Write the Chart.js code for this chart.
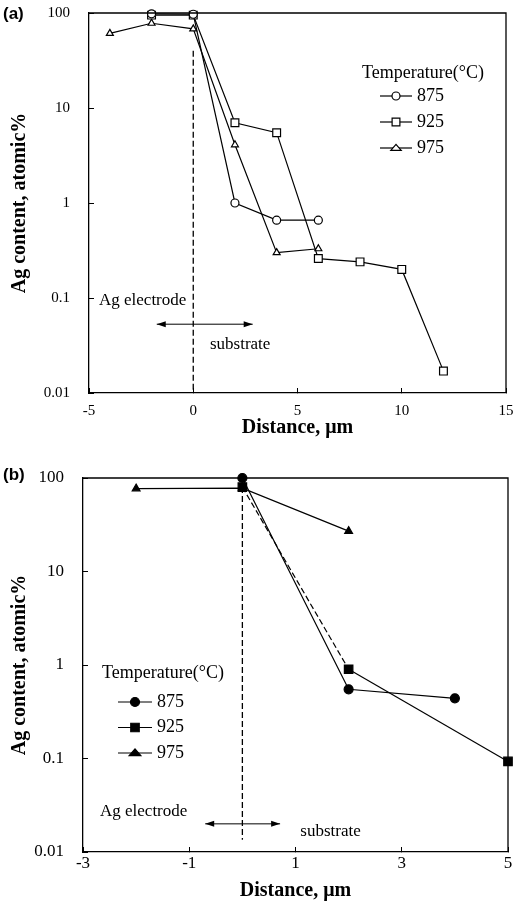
<!DOCTYPE html>
<html>
<head>
<meta charset="utf-8">
<script src="https://cdn.jsdelivr.net/npm/chart.js@4.4.0/dist/chart.umd.min.js"></script>
<style>
  body { margin: 0; background: #fff; }
  #wrap { position: relative; width: 517px; height: 905px; }
  canvas { position: absolute; left: 0; }
</style>
</head>
<body>
<div id="wrap">
  <canvas id="agChartA" width="517" height="450" style="top:0"></canvas>
  <canvas id="agChartB" width="517" height="455" style="top:450px"></canvas>
</div>
<script>
// Temperature series labels
const temps = ['875', '925', '975'];

// Panel (a): Ag content vs distance
const a875x = [-2, 0, 2, 4, 6];
const a875y = [98, 97, 1.0, 0.66, 0.66];
const a925x = [-2, 0, 2, 4, 6, 8, 10, 12];
const a925y = [95, 95, 7, 5.5, 0.26, 0.24, 0.2, 0.017];
const a975x = [-4, -2, 0, 2, 4, 6];
const a975y = [61, 78, 68, 4.1, 0.3, 0.33];

// Panel (b)
const b875x = [0, 2, 4];
const b875y = [100, 0.55, 0.44];
const b925x = [0, 2, 5];
const b925y = [80, 0.9, 0.093];
const b975x = [-2, 0, 2];
const b975y = [77, 78, 27];

// Tick labels
const aXTicks = [-5, 0, 5, 10, 15];
const bXTicks = [-3, -1, 1, 3, 5];
const yTicks = [0.01, 0.1, 1, 10, 100];
const yTickLabels = ['0.01', '0.1', '1', '10', '100'];

const serif = '"Liberation Serif", "Times New Roman", serif';
const pts = (xs, ys) => xs.map((x, i) => ({x: x, y: ys[i]}));

function marker(ctx, style, x, y, r, fill) {
    ctx.beginPath();
    if (style === 'circle') {
        ctx.arc(x, y, r, 0, Math.PI * 2);
    } else if (style === 'rect') {
        const s = r * Math.SQRT1_2;
        ctx.rect(x - s, y - s, 2 * s, 2 * s);
    } else {
        const h = r * 1.5, w = r * 1.3;
        ctx.moveTo(x, y - h * 0.6);
        ctx.lineTo(x + w, y + h * 0.4);
        ctx.lineTo(x - w, y + h * 0.4);
        ctx.closePath();
    }
    ctx.fillStyle = fill;
    ctx.fill();
    ctx.stroke();
}

// draws frame, boundary line, arrow, notes, panel letter and legend
const annotate = {
    id: 'annotate',
    afterDatasetsDraw(chart, args, o) {
        const {ctx, chartArea: ca, scales: {x, y}} = chart;
        ctx.save();
        ctx.strokeStyle = '#000';
        ctx.fillStyle = '#000';
        ctx.lineWidth = 1.3;
        ctx.beginPath();
        ctx.moveTo(ca.left, ca.top);
        ctx.lineTo(ca.right, ca.top);
        ctx.lineTo(ca.right, ca.bottom);
        ctx.stroke();

        // dashed electrode / substrate boundary
        const x0 = x.getPixelForValue(0);
        ctx.setLineDash([6, 3]);
        ctx.beginPath();
        ctx.moveTo(x0, y.getPixelForValue(o.dash[0]));
        ctx.lineTo(x0, y.getPixelForValue(o.dash[1]));
        ctx.stroke();
        ctx.setLineDash([]);

        // double arrow
        const ax1 = x.getPixelForValue(o.arrow[0]);
        const ax2 = x.getPixelForValue(o.arrow[1]);
        const ay = y.getPixelForValue(o.arrow[2]);
        ctx.lineWidth = 1;
        ctx.beginPath();
        ctx.moveTo(ax1, ay);
        ctx.lineTo(ax2, ay);
        ctx.stroke();
        [[ax1, 1], [ax2, -1]].forEach(([ax, d]) => {
            ctx.beginPath();
            ctx.moveTo(ax, ay);
            ctx.lineTo(ax + d * 9, ay - 3);
            ctx.lineTo(ax + d * 9, ay + 3);
            ctx.closePath();
            ctx.fill();
        });

        ctx.font = o.noteSize + 'px ' + serif;
        ctx.textBaseline = 'middle';
        ctx.textAlign = 'left';
        ctx.fillText('Ag electrode', x.getPixelForValue(o.electrode[0]), y.getPixelForValue(o.electrode[1]));
        ctx.fillText('substrate', x.getPixelForValue(o.substrate[0]), y.getPixelForValue(o.substrate[1]));

        // panel letter
        ctx.font = 'bold 17px "Liberation Sans", Arial, sans-serif';
        ctx.fillText(o.letter, 3, o.letterY);

        // legend
        const L = o.legend;
        ctx.font = L.size + 'px ' + serif;
        ctx.fillText('Temperature(\u00B0C)', L.x, L.y);
        chart.data.datasets.forEach((ds, i) => {
            const ly = L.y + L.first + i * L.gap;
            ctx.lineWidth = 1.2;
            ctx.beginPath();
            ctx.moveTo(L.lx1, ly);
            ctx.lineTo(L.lx2, ly);
            ctx.stroke();
            marker(ctx, ds.pointStyle, (L.lx1 + L.lx2) / 2, ly, ds.pointRadius, ds.pointBackgroundColor);
            ctx.fillStyle = '#000';
            ctx.fillText(ds.label, L.lx2 + 5, ly);
        });
        ctx.restore();
    }
};

function makeScales(xMin, xMax, xTicks, xH, yW, xPad, tickSize, xTitlePad) {
    return {
        x: {
            type: 'linear',
            min: xMin,
            max: xMax,
            afterBuildTicks: s => { s.ticks = xTicks.map(v => ({value: v})); },
            afterFit: s => {
                s.height = xH;
                s.paddingLeft = 0;
                s.paddingRight = 0;
            },
            border: {color: '#000', width: 1.3},
            grid: {drawOnChartArea: false, tickLength: -5, color: '#000'},
            ticks: {
                color: '#000',
                font: {family: serif, size: tickSize},
                padding: xPad,
                maxRotation: 0,
                autoSkip: false
            },
            title: {
                display: true,
                text: 'Distance, \u03BCm',
                color: '#000',
                font: {family: serif, size: 20, weight: 'bold'},
                padding: {top: 0, bottom: xTitlePad}
            }
        },
        y: {
            type: 'logarithmic',
            min: 0.01,
            max: 100,
            afterBuildTicks: s => { s.ticks = yTicks.map(v => ({value: v})); },
            afterFit: s => {
                s.width = yW;
                s.paddingTop = 0;
                s.paddingBottom = 0;
            },
            border: {color: '#000', width: 1.3},
            grid: {drawOnChartArea: false, tickLength: -5, color: '#000'},
            ticks: {
                color: '#000',
                font: {family: serif, size: tickSize},
                padding: 24,
                autoSkip: false,
                callback: (v, i) => yTickLabels[i]
            },
            title: {
                display: true,
                text: 'Ag content, atomic%',
                color: '#000',
                font: {family: serif, size: 20, weight: 'bold'},
                padding: {top: 8, bottom: 0}
            }
        }
    };
}

function series(label, data, style, fill, r) {
    return {
        label: label,
        data: data,
        showLine: true,
        borderColor: '#000',
        borderWidth: 1.2,
        pointStyle: style,
        pointRadius: r,
        pointBackgroundColor: fill,
        pointBorderColor: '#000',
        pointBorderWidth: 1.2,
        clip: false
    };
}

// Panel (a): open markers
const ctxA = document.getElementById('agChartA').getContext('2d');
new Chart(ctxA, {
type: 'scatter',
data: {
    datasets: [
        series(temps[0], pts(a875x, a875y), 'circle', '#fff', 4),
        series(temps[1], pts(a925x, a925y), 'rect', '#fff', 5.5),
        series(temps[2], pts(a975x, a975y), 'triangle', '#fff', 4)
    ]
},
options: {
    responsive: false,
    animation: false,
    layout: {padding: {top: 13, right: 11, bottom: 0, left: 0}},
    scales: makeScales(-5, 15, aXTicks, 57, 89, 14, 15, 10),
    plugins: {
        legend: {display: false},
        tooltip: {enabled: false},
        annotate: {
            letter: '(a)',
            letterY: 14,
            dash: [40, 0.01],
            arrow: [-1.75, 2.85, 0.053],
            electrode: [-4.52, 0.093],
            substrate: [0.8, 0.032],
            noteSize: 17,
            legend: {x: 362, y: 73, first: 23, gap: 26, lx1: 380, lx2: 412, size: 18}
        }
    }
},
plugins: [annotate]
});

// Panel (b): filled markers
const ctxB = document.getElementById('agChartB').getContext('2d');
const b925 = series(temps[1], pts(b925x, b925y), 'rect', '#000', 6);
b925.segment = {borderDash: c => c.p0DataIndex === 0 ? [6, 3] : undefined};
new Chart(ctxB, {
type: 'scatter',
data: {
    datasets: [
        series(temps[0], pts(b875x, b875y), 'circle', '#000', 4.5),
        b925,
        series(temps[2], pts(b975x, b975y), 'triangle', '#000', 4.5)
    ]
},
options: {
    responsive: false,
    animation: false,
    layout: {padding: {top: 28, right: 9, bottom: 0, left: 0}},
    scales: makeScales(-3, 5, bXTicks, 53, 83, 6, 17, 2),
    plugins: {
        legend: {display: false},
        tooltip: {enabled: false},
        annotate: {
            letter: '(b)',
            letterY: 25,
            dash: [80, 0.0135],
            arrow: [-0.7, 0.71, 0.02],
            electrode: [-2.68, 0.027],
            substrate: [1.09, 0.0164],
            noteSize: 17,
            legend: {x: 102, y: 223, first: 29, gap: 25.5, lx1: 118, lx2: 152, size: 18}
        }
    }
},
plugins: [annotate]
});
</script>
</body>
</html>
